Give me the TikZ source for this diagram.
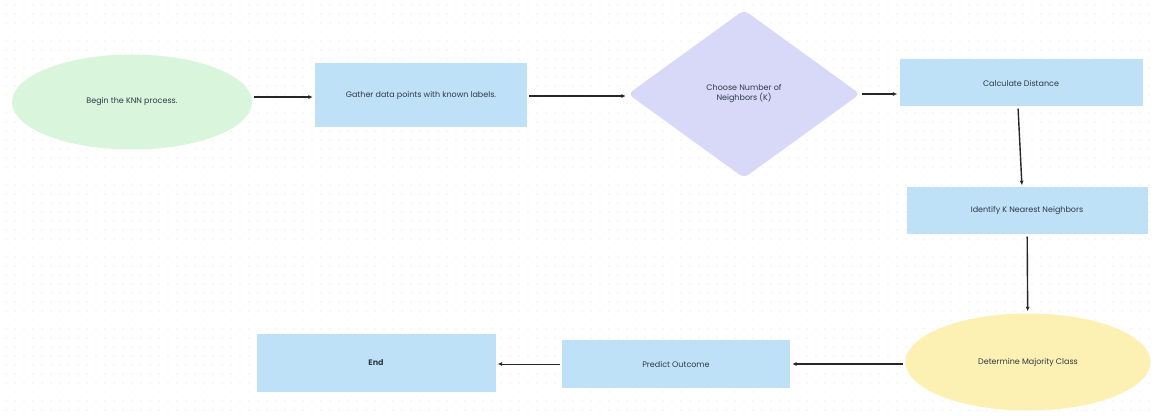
\documentclass[tikz,border=0pt]{standalone}
\usepackage{fontspec}
\setmainfont{Poppins}
\usetikzlibrary{arrows.meta,shapes.geometric}
\definecolor{startgreen}{HTML}{D9F6DD}
\definecolor{stepblue}{HTML}{BFE1F8}
\definecolor{pickviolet}{HTML}{D8D9F8}
\definecolor{voteyellow}{HTML}{FCF0B3}
\definecolor{inkslate}{HTML}{2E3947}
\definecolor{dotgrey}{HTML}{E2E2E2}

\begin{document}
\begin{tikzpicture}[x=1pt,y=1pt, every node/.style={font=\fontsize{8}{10}\selectfont,text=inkslate},
  oval/.style={ellipse,inner sep=0pt,align=center},
  stepbox/.style={rectangle,fill=stepblue,inner sep=0pt,align=center},
  pick/.style={diamond,fill=pickviolet,rounded corners=5pt,inner sep=0pt,align=center},
  ar/.style={-{Latex[length=4.5pt,width=4pt]},black!85,line width=1.4pt,shorten <=2pt,shorten >=2pt}]

\useasboundingbox (0,0) rectangle (1155,415);
\fill[white] (0,0) rectangle (1155,415);
% dotted canvas
\foreach \i in {0,...,127}
  \foreach \j in {0,...,45}
    \fill[dotgrey] (6+9*\i,5+9*\j) circle (0.7);

\node[oval,fill=startgreen,minimum width=240,minimum height=95] (start) at (132,313) {Begin the KNN process.};
\node[stepbox,minimum width=212,minimum height=64] (gather) at (421,320) {Gather data points with known labels.};
\node[pick,minimum width=232,minimum height=168] (choose) at (744,321) {Choose Number of\\Neighbors (K)};
\node[stepbox,minimum width=243,minimum height=47] (dist) at (1021,332) {Calculate Distance};
\node[stepbox,minimum width=241,minimum height=47] (near) at (1027,204) {Identify K Nearest Neighbors};
\node[oval,fill=voteyellow,minimum width=245,minimum height=97] (vote) at (1028,53) {Determine Majority Class};
\node[stepbox,minimum width=228,minimum height=48] (pred) at (676,51) {Predict Outcome};
\node[stepbox,minimum width=239,minimum height=58,font=\fontsize{8}{10}\selectfont\bfseries] (stop) at (376,52) {End};

\draw[ar] ([yshift=5pt]start.east) -- ([yshift=5pt]start.east -| gather.west);
\draw[ar] ([yshift=-1pt]gather.east) -- ([yshift=-1pt]gather.east -| choose.west);
\draw[ar] (choose.east) -- (choose.east -| dist.west);
\draw[ar] ([xshift=-3pt]dist.south) -- ([xshift=-5pt]near.north);
\draw[ar] (near) -- (vote);
\draw[ar] (vote.west |- pred) -- (pred);
\draw[ar,line width=0.8pt] (pred) -- (pred -| stop.east);
\end{tikzpicture}
\end{document}
